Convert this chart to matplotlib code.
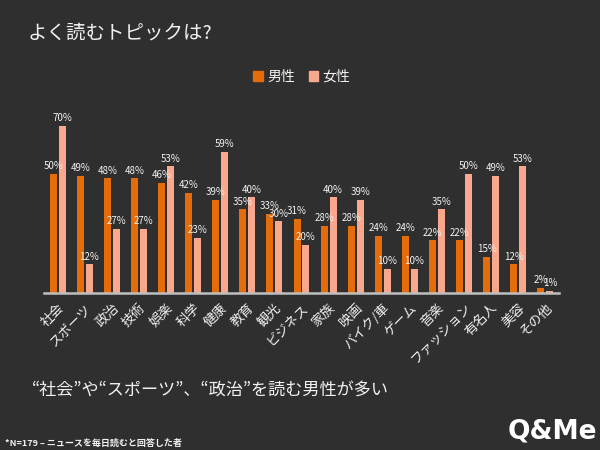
import matplotlib.pyplot as plt
import numpy as np
from matplotlib.patches import Patch

plt.rcParams["font.family"] = ["Noto Sans CJK JP", "DejaVu Sans"]

#### Data

CATEGORIES = [
    "社会", "スポーツ", "政治", "技術", "娯楽", "科学", "健康", "教育", "観光",
    "ビジネス", "家族", "映画", "バイク/車", "ゲーム", "音楽", "ファッション",
    "有名人", "美容", "その他",
]
MALE = [50, 49, 48, 48, 46, 42, 39, 35, 33, 31, 28, 28, 24, 24, 22, 22, 15, 12, 2]
FEMALE = [70, 12, 27, 27, 53, 23, 59, 40, 30, 20, 40, 39, 10, 10, 35, 50, 49, 53, 1]
SERIES_NAMES = ["男性", "女性"]

BG = "#2f2f2f"
ORANGE = "#e46c0a"
PINK = "#f9a88e"
TEXT = "#f2f2f2"

fig = plt.figure(figsize=(6, 4.5), dpi=100, facecolor=BG)
ax = fig.add_axes([44 / 600, 157 / 450, 515 / 600, 191 / 450], facecolor=BG)

x = np.arange(len(CATEGORIES))
width = 0.26
offset = 0.165
bars_m = ax.bar(x - offset, MALE, width, color=ORANGE)
bars_f = ax.bar(x + offset, FEMALE, width, color=PINK)

# value labels above each bar (they overlap a little, as in the original)
for bars in (bars_m, bars_f):
    for b in bars:
        ax.annotate(
            f"{int(b.get_height())}%",
            (b.get_x() + b.get_width() / 2, b.get_height()),
            xytext=(0, 2), textcoords="offset points",
            ha="center", va="bottom", color=TEXT, fontsize=7,
        )

ax.set_xlim(-0.5, len(CATEGORIES) - 0.5)
ax.set_ylim(0, 80)
ax.set_yticks([])
ax.set_xticks(x)
ax.set_xticklabels(CATEGORIES, rotation=45, ha="right", rotation_mode="anchor",
                   color=TEXT, fontsize=9.5)
ax.tick_params(axis="x", length=0, pad=6)
for side in ("top", "right", "left"):
    ax.spines[side].set_visible(False)
ax.spines["bottom"].set_color("#bfbfbf")
ax.spines["bottom"].set_linewidth(1.8)

handles = [Patch(color=ORANGE), Patch(color=PINK)]
fig.legend(handles, SERIES_NAMES, loc="center", bbox_to_anchor=(0.503, 1 - 77 / 450),
           ncol=2, frameon=False, fontsize=10, labelcolor=TEXT,
           handlelength=0.7, handleheight=0.7, handletextpad=0.3, columnspacing=1.0)

fig.text(28 / 600, 1 - 33 / 450, "よく読むトピックは?", color=TEXT, fontsize=14,
         va="center", ha="left")
fig.text(32 / 600, 1 - 390 / 450, "“社会”や“スポーツ”、“政治”を読む男性が多い",
         color=TEXT, fontsize=12.3, va="center", ha="left")
fig.text(5 / 600, 1 - 443 / 450, "*N=179 – ニュースを毎日読むと回答した者",
         color=TEXT, fontsize=6.5, fontweight="bold", va="center", ha="left")
fig.text(597 / 600, 1 - 431 / 450, "Q&Me", color="white", fontsize=19,
         fontweight="heavy", family="DejaVu Sans", va="center", ha="right")

fig.savefig("out.png", dpi=100, facecolor=BG)
